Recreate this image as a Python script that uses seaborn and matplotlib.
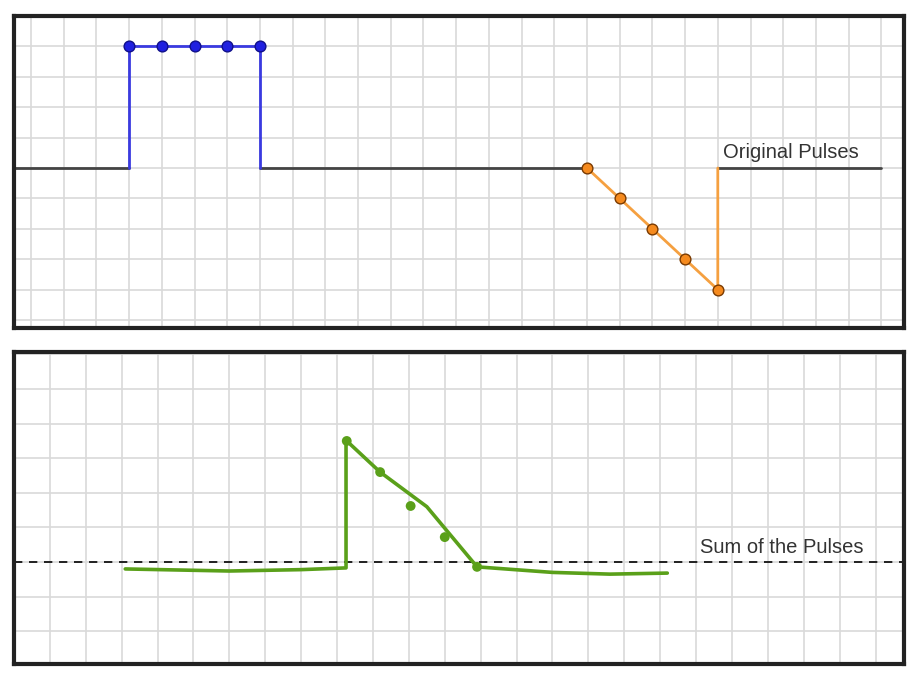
import matplotlib
matplotlib.use("Agg")
import matplotlib.pyplot as plt
import seaborn as sns
import numpy as np

# Top panel data
blue_x = [3, 3, 4, 5, 6, 7, 7]
blue_y = [0, 4, 4, 4, 4, 4, 0]
blue_dots_x = [3, 4, 5, 6, 7]
blue_dots_y = [4, 4, 4, 4, 4]
orange_x = [17, 18, 19, 20, 21, 21]
orange_y = [0, -1, -2, -3, -4, 0]
orange_dots_x = [17, 18, 19, 20, 21]
orange_dots_y = [0, -1, -2, -3, -4]
tail_x = [21, 26]
tail_y = [0, 0]

# Bottom panel data (hand-drawn sum)
green_x = [3.1, 6.0, 8.0, 9.25, 9.25, 10.2, 11.5, 12.9, 15.0, 16.6, 18.2]
green_y = [-0.2, -0.26, -0.22, -0.17, 3.52, 2.6, 1.6, -0.14, -0.3, -0.35, -0.32]
gdots_x = [9.27, 10.2, 11.05, 12.0, 12.9]
gdots_y = [3.5, 2.6, 1.62, 0.72, -0.14]

sns.set_style("white")
plt.rcParams['font.family'] = ['Liberation Sans', 'DejaVu Sans']
fig = plt.figure(figsize=(9.14, 6.79), dpi=100)
ax1 = fig.add_axes([0.0153, 0.517, 0.974, 0.4595])
ax2 = fig.add_axes([0.0153, 0.022, 0.974, 0.4595])

def frame(ax, xlim, ylim):
    ax.set_xlim(*xlim)
    ax.set_ylim(*ylim)
    for v in range(int(np.ceil(xlim[0])), int(np.floor(xlim[1])) + 1):
        ax.axvline(v, color="#d9d9d9", lw=1.2, zorder=0)
    for v in range(int(np.ceil(ylim[0])), int(np.floor(ylim[1])) + 1):
        ax.axhline(v, color="#d9d9d9", lw=1.2, zorder=0)
    ax.set_xticks([]); ax.set_yticks([])
    for s in ax.spines.values():
        s.set_visible(True); s.set_linewidth(3); s.set_color("#222222")

def line(ax, x, y, **kw):
    sns.lineplot(x=x, y=y, ax=ax, sort=False, estimator=None, **kw)

frame(ax1, (-0.52, 26.7), (-5.26, 5.0))
line(ax1, [-0.6, 3], [0, 0], color="#444444", lw=2)
line(ax1, [7, 17], [0, 0], color="#444444", lw=2)
line(ax1, tail_x, tail_y, color="#444444", lw=2)
line(ax1, blue_x, blue_y, color="#3a3ae0", lw=2)
sns.scatterplot(x=blue_dots_x, y=blue_dots_y, ax=ax1, color="#2020e0", s=60, edgecolor="#10108a", linewidth=1, zorder=5)
line(ax1, orange_x, orange_y, color="#f5a040", lw=2)
sns.scatterplot(x=orange_dots_x, y=orange_dots_y, ax=ax1, color="#f58a1e", s=60, edgecolor="#7a3a00", linewidth=1, zorder=5)
ax1.text(21.15, 0.2, "Original Pulses", fontsize=14.5, color="#333333", va="bottom")

frame(ax2, (0.0, 24.8), (-2.95, 6.07))
ax2.axhline(0, color="black", lw=1.2, ls=(0, (5, 4)), zorder=2)
line(ax2, green_x, green_y, color="#5aa01a", lw=2.6)
sns.scatterplot(x=gdots_x, y=gdots_y, ax=ax2, color="#5aa01a", s=50, edgecolor="none", zorder=5)
ax2.text(19.1, 0.15, "Sum of the Pulses", fontsize=14.5, color="#333333", va="bottom")

for a in (ax1, ax2):
    if a.get_legend():
        a.get_legend().remove()
    a.set_xlabel(""); a.set_ylabel("")

fig.savefig("out.png", dpi=100)
